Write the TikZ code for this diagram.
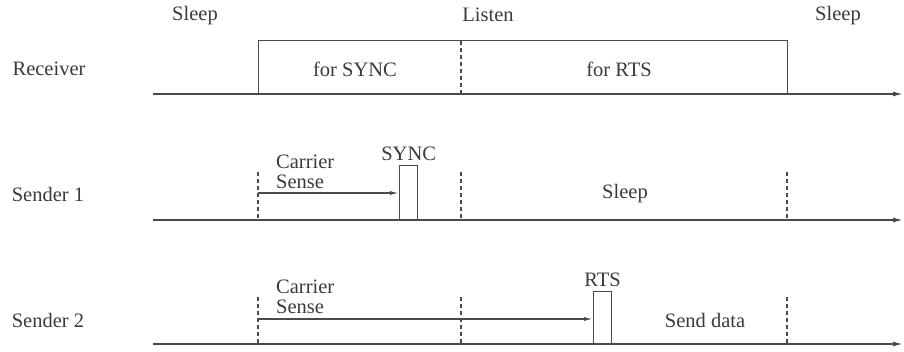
\documentclass[tikz,border=0pt]{standalone}
\usepackage{fontspec}
\setmainfont{Liberation Serif}
\usetikzlibrary{arrows.meta}
\definecolor{ln}{HTML}{4A4A4A}
\definecolor{tx}{HTML}{3A3A3A}
\tikzset{
  tl/.style={draw=ln, line width=1.5pt, -{Latex[length=10pt,width=5pt]}},
  cs/.style={draw=ln, line width=1.3pt, -{Latex[length=9pt,width=4pt]}},
  dsh/.style={draw=ln, line width=1.2pt, dash pattern=on 4pt off 3pt},
  slot/.style={draw=ln, line width=1.3pt, inner sep=0pt, anchor=south west},
  lbl/.style={text=tx, font=\fontsize{20.5}{21}\selectfont, inner sep=0pt},
  lbl2/.style={text=tx, font=\fontsize{20.5}{21}\selectfont, inner sep=0pt, align=left, anchor=west}
}
\begin{document}
\begin{tikzpicture}[x=1pt,y=-1pt]
\useasboundingbox (0,0) rectangle (904,352);
% top labels
\node[lbl] (sl1) at (195,16) {Sleep};
\node[lbl] (lis) at (488,15) {Listen};
\node[lbl] (sl2) at (838,16) {Sleep};
% Receiver
\node[lbl] (rec) at (49,69) {Receiver};
\coordinate (r0) at (153,94);
\coordinate (r1) at (903,94);
\node[slot, minimum width=529pt, minimum height=53pt] (rbox) at (258,94) {};
\draw[tl] (r0) -- (r1);
\coordinate (rd0) at (461,41);
\coordinate (rd1) at (461,94);
\draw[dsh] (rd0) -- (rd1);
\node[lbl] (fs) at (355,69) {for SYNC};
\node[lbl] (fr) at (619,69) {for RTS};
% Sender 1
\node[lbl] (s1) at (48,194) {Sender 1};
\coordinate (a0) at (153,220);
\coordinate (a1) at (903,220);
\draw[tl] (a0) -- (a1);
\coordinate (ad1t) at (258,172); \coordinate (ad1b) at (258,220);
\coordinate (ad2t) at (461,172); \coordinate (ad2b) at (461,220);
\coordinate (ad3t) at (787,172); \coordinate (ad3b) at (787,220);
\draw[dsh] (ad1t) -- (ad1b);
\draw[dsh] (ad2t) -- (ad2b);
\draw[dsh] (ad3t) -- (ad3b);
\node[slot, minimum width=18pt, minimum height=54pt] (sync) at (399,220) {};
\node[lbl, anchor=south] (synct) at (sync.north) [yshift=4pt] {SYNC};
\node[lbl2] (cs1) at (276,172) {Carrier\\[-1pt]Sense};
\coordinate (as) at (258,193);
\draw[cs] (as) -- (as -| sync.west);
\node[lbl] (sl3) at (625,194) {Sleep};
% Sender 2
\node[lbl] (s2) at (48,320) {Sender 2};
\coordinate (b0) at (153,344);
\coordinate (b1) at (903,344);
\draw[tl] (b0) -- (b1);
\coordinate (bd1t) at (258,297); \coordinate (bd1b) at (258,344);
\coordinate (bd2t) at (461,297); \coordinate (bd2b) at (461,344);
\coordinate (bd3t) at (787,297); \coordinate (bd3b) at (787,344);
\draw[dsh] (bd1t) -- (bd1b);
\draw[dsh] (bd2t) -- (bd2b);
\draw[dsh] (bd3t) -- (bd3b);
\node[slot, minimum width=18pt, minimum height=52pt] (rts) at (593,344) {};
\node[lbl, anchor=south] (rtst) at (rts.north) [yshift=4pt] {RTS};
\node[lbl2] (cs2) at (276,297) {Carrier\\[-1pt]Sense};
\coordinate (bs) at (258,319);
\draw[cs] (bs) -- (bs -| rts.west);
\node[lbl] (sd) at (705,320) {Send data};
\end{tikzpicture}
\end{document}
